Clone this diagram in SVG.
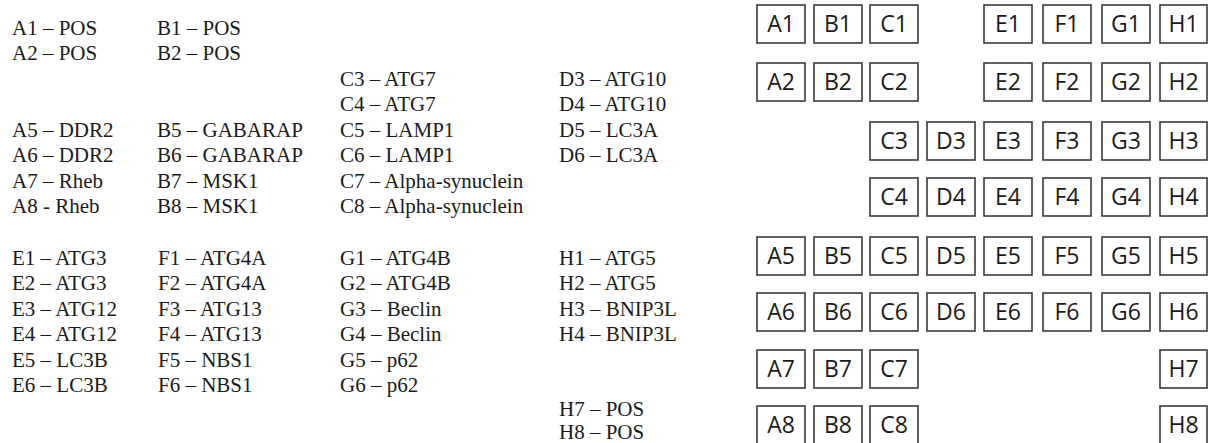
<svg xmlns="http://www.w3.org/2000/svg" width="1210" height="443" viewBox="0 0 1210 443">
<style>
.lg{font-family:"Liberation Serif","Times New Roman",serif;font-size:21px;fill:#1a1a1a}
.bx rect{fill:#fff;stroke:#3a3a3a;stroke-width:1.6}
.bx text{font-family:"Open Sans","Noto Sans",sans-serif;font-size:23px;fill:#1a1a1a;text-anchor:middle}
</style>
<rect width="1210" height="443" fill="#fff"/>
<g id="legend" class="lg">
<text x="12" y="35">A1 – POS</text>
<text x="12" y="60">A2 – POS</text>
<text x="12" y="137">A5 – DDR2</text>
<text x="12" y="162">A6 – DDR2</text>
<text x="12" y="188">A7 – Rheb</text>
<text x="12" y="213">A8 - Rheb</text>
<text x="157" y="35">B1 – POS</text>
<text x="157" y="60">B2 – POS</text>
<text x="157" y="137">B5 – GABARAP</text>
<text x="157" y="162">B6 – GABARAP</text>
<text x="157" y="188">B7 – MSK1</text>
<text x="157" y="213">B8 – MSK1</text>
<text x="340" y="86">C3 – ATG7</text>
<text x="340" y="111">C4 – ATG7</text>
<text x="340" y="137">C5 – LAMP1</text>
<text x="340" y="162">C6 – LAMP1</text>
<text x="340" y="188">C7 – Alpha-synuclein</text>
<text x="340" y="213">C8 – Alpha-synuclein</text>
<text x="559" y="86">D3 – ATG10</text>
<text x="559" y="111">D4 – ATG10</text>
<text x="559" y="137">D5 – LC3A</text>
<text x="559" y="162">D6 – LC3A</text>
<text x="12" y="265">E1 – ATG3</text>
<text x="12" y="290">E2 – ATG3</text>
<text x="12" y="316">E3 – ATG12</text>
<text x="12" y="341">E4 – ATG12</text>
<text x="12" y="367">E5 – LC3B</text>
<text x="12" y="392">E6 – LC3B</text>
<text x="158" y="265">F1 – ATG4A</text>
<text x="158" y="290">F2 – ATG4A</text>
<text x="158" y="316">F3 – ATG13</text>
<text x="158" y="341">F4 – ATG13</text>
<text x="158" y="367">F5 – NBS1</text>
<text x="158" y="392">F6 – NBS1</text>
<text x="340" y="265">G1 – ATG4B</text>
<text x="340" y="290">G2 – ATG4B</text>
<text x="340" y="316">G3 – Beclin</text>
<text x="340" y="341">G4 – Beclin</text>
<text x="340" y="367">G5 – p62</text>
<text x="340" y="392">G6 – p62</text>
<text x="559" y="265">H1 – ATG5</text>
<text x="559" y="290">H2 – ATG5</text>
<text x="559" y="316">H3 – BNIP3L</text>
<text x="559" y="341">H4 – BNIP3L</text>
<text x="559" y="416">H7 – POS</text>
<text x="559" y="439">H8 – POS</text>
</g>
<g id="connectors"/>
<g id="A1" class="bx"><rect x="757" y="5" width="48" height="38"/><text x="781" y="32">A1</text></g>
<g id="B1" class="bx"><rect x="814" y="5" width="48" height="38"/><text x="838" y="32">B1</text></g>
<g id="C1" class="bx"><rect x="870" y="5" width="48" height="38"/><text x="894" y="32">C1</text></g>
<g id="E1" class="bx"><rect x="984" y="5" width="48" height="38"/><text x="1008" y="32">E1</text></g>
<g id="F1" class="bx"><rect x="1043" y="5" width="48" height="38"/><text x="1067" y="32">F1</text></g>
<g id="G1" class="bx"><rect x="1102" y="5" width="48" height="38"/><text x="1126" y="32">G1</text></g>
<g id="H1" class="bx"><rect x="1160" y="5" width="47" height="38"/><text x="1183.5" y="32">H1</text></g>
<g id="A2" class="bx"><rect x="757" y="63" width="48" height="38"/><text x="781" y="90">A2</text></g>
<g id="B2" class="bx"><rect x="814" y="63" width="48" height="38"/><text x="838" y="90">B2</text></g>
<g id="C2" class="bx"><rect x="870" y="63" width="48" height="38"/><text x="894" y="90">C2</text></g>
<g id="E2" class="bx"><rect x="984" y="63" width="48" height="38"/><text x="1008" y="90">E2</text></g>
<g id="F2" class="bx"><rect x="1043" y="63" width="48" height="38"/><text x="1067" y="90">F2</text></g>
<g id="G2" class="bx"><rect x="1102" y="63" width="48" height="38"/><text x="1126" y="90">G2</text></g>
<g id="H2" class="bx"><rect x="1160" y="63" width="47" height="38"/><text x="1183.5" y="90">H2</text></g>
<g id="C3" class="bx"><rect x="870" y="122" width="48" height="38"/><text x="894" y="149">C3</text></g>
<g id="D3" class="bx"><rect x="927" y="122" width="48" height="38"/><text x="951" y="149">D3</text></g>
<g id="E3" class="bx"><rect x="984" y="122" width="48" height="38"/><text x="1008" y="149">E3</text></g>
<g id="F3" class="bx"><rect x="1043" y="122" width="48" height="38"/><text x="1067" y="149">F3</text></g>
<g id="G3" class="bx"><rect x="1102" y="122" width="48" height="38"/><text x="1126" y="149">G3</text></g>
<g id="H3" class="bx"><rect x="1160" y="122" width="47" height="38"/><text x="1183.5" y="149">H3</text></g>
<g id="C4" class="bx"><rect x="870" y="178" width="48" height="38"/><text x="894" y="205">C4</text></g>
<g id="D4" class="bx"><rect x="927" y="178" width="48" height="38"/><text x="951" y="205">D4</text></g>
<g id="E4" class="bx"><rect x="984" y="178" width="48" height="38"/><text x="1008" y="205">E4</text></g>
<g id="F4" class="bx"><rect x="1043" y="178" width="48" height="38"/><text x="1067" y="205">F4</text></g>
<g id="G4" class="bx"><rect x="1102" y="178" width="48" height="38"/><text x="1126" y="205">G4</text></g>
<g id="H4" class="bx"><rect x="1160" y="178" width="47" height="38"/><text x="1183.5" y="205">H4</text></g>
<g id="A5" class="bx"><rect x="757" y="237" width="48" height="38"/><text x="781" y="264">A5</text></g>
<g id="B5" class="bx"><rect x="814" y="237" width="48" height="38"/><text x="838" y="264">B5</text></g>
<g id="C5" class="bx"><rect x="870" y="237" width="48" height="38"/><text x="894" y="264">C5</text></g>
<g id="D5" class="bx"><rect x="927" y="237" width="48" height="38"/><text x="951" y="264">D5</text></g>
<g id="E5" class="bx"><rect x="984" y="237" width="48" height="38"/><text x="1008" y="264">E5</text></g>
<g id="F5" class="bx"><rect x="1043" y="237" width="48" height="38"/><text x="1067" y="264">F5</text></g>
<g id="G5" class="bx"><rect x="1102" y="237" width="48" height="38"/><text x="1126" y="264">G5</text></g>
<g id="H5" class="bx"><rect x="1160" y="237" width="47" height="38"/><text x="1183.5" y="264">H5</text></g>
<g id="A6" class="bx"><rect x="757" y="293" width="48" height="38"/><text x="781" y="320">A6</text></g>
<g id="B6" class="bx"><rect x="814" y="293" width="48" height="38"/><text x="838" y="320">B6</text></g>
<g id="C6" class="bx"><rect x="870" y="293" width="48" height="38"/><text x="894" y="320">C6</text></g>
<g id="D6" class="bx"><rect x="927" y="293" width="48" height="38"/><text x="951" y="320">D6</text></g>
<g id="E6" class="bx"><rect x="984" y="293" width="48" height="38"/><text x="1008" y="320">E6</text></g>
<g id="F6" class="bx"><rect x="1043" y="293" width="48" height="38"/><text x="1067" y="320">F6</text></g>
<g id="G6" class="bx"><rect x="1102" y="293" width="48" height="38"/><text x="1126" y="320">G6</text></g>
<g id="H6" class="bx"><rect x="1160" y="293" width="47" height="38"/><text x="1183.5" y="320">H6</text></g>
<g id="A7" class="bx"><rect x="757" y="350" width="48" height="38"/><text x="781" y="377">A7</text></g>
<g id="B7" class="bx"><rect x="814" y="350" width="48" height="38"/><text x="838" y="377">B7</text></g>
<g id="C7" class="bx"><rect x="870" y="350" width="48" height="38"/><text x="894" y="377">C7</text></g>
<g id="H7" class="bx"><rect x="1160" y="350" width="47" height="38"/><text x="1183.5" y="377">H7</text></g>
<g id="A8" class="bx"><rect x="757" y="406" width="48" height="38"/><text x="781" y="433">A8</text></g>
<g id="B8" class="bx"><rect x="814" y="406" width="48" height="38"/><text x="838" y="433">B8</text></g>
<g id="C8" class="bx"><rect x="870" y="406" width="48" height="38"/><text x="894" y="433">C8</text></g>
<g id="H8" class="bx"><rect x="1160" y="406" width="47" height="38"/><text x="1183.5" y="433">H8</text></g>
</svg>
